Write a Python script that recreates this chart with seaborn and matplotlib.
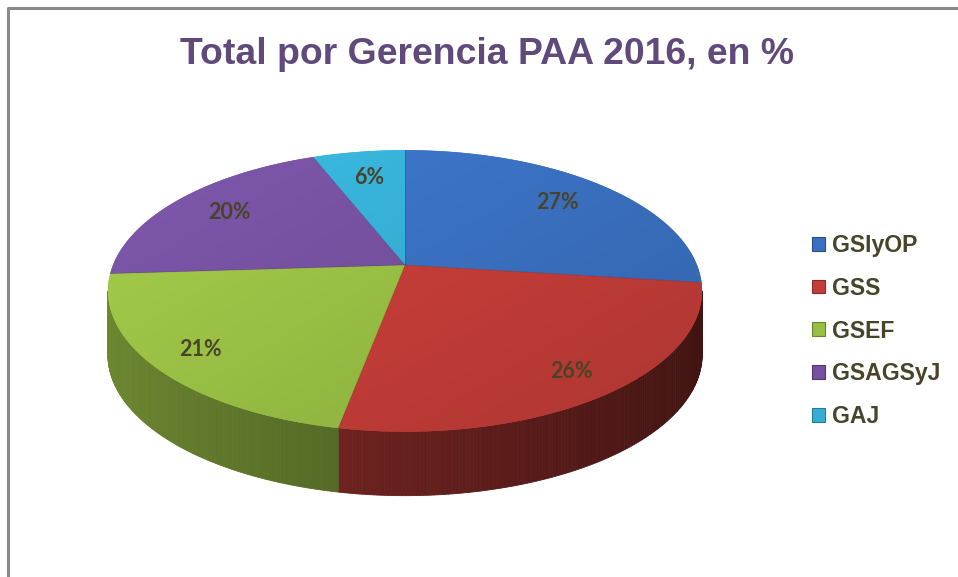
import numpy as np
import matplotlib
matplotlib.use("Agg")
import matplotlib.pyplot as plt
import seaborn as sns
from matplotlib.patches import Patch, Polygon
from matplotlib import colors as mcolors

# ---- data ----
categories = ["GSIyOP", "GSS", "GSEF", "GSAGSyJ", "GAJ"]
values = [27, 26, 21, 20, 6]
pct_labels = ["27%", "26%", "21%", "20%", "6%"]
title = "Total por Gerencia PAA 2016, en %"
slice_colors = ["#3a70c0", "#c43d38", "#98be44", "#74509e", "#36aed3"]

sns.set_theme(style="white")
plt.rcParams["font.family"] = ["Liberation Sans", "DejaVu Sans"]

W, H = 958, 577
fig = plt.figure(figsize=(W / 100, H / 100), dpi=100)
ax = fig.add_axes([0, 0, 1, 1])
ax.set_xlim(0, W)
ax.set_ylim(H, 0)
ax.axis("off")

# frame (partially visible)
ax.plot([8, 8, W], [H, 8, 8], color="#8a8a8a", lw=2.2, solid_capstyle="butt")

# ---- 3D pie geometry (perspective projection of a unit disc) ----
cx, cy = 405.0, 265.0
A, B, k = 292.0, 136.0, 0.184
thick = 64.0
t_vis_lo = -np.pi + np.arcsin(k)   # left tangent point of the wall
t_vis_hi = -np.arcsin(k)           # right tangent point of the wall


def proj(t, f=1.0):
    u = f * np.cos(t)
    v = f * np.sin(t)
    d = 1 + k * v
    return cx + A * u / d, cy - B * v / d


vals = np.asarray(values, dtype=float)
frac = vals / vals.sum()
cum = np.concatenate([[0], np.cumsum(frac)])
t_start = np.pi / 2 - 2 * np.pi * cum[:-1]
t_end = np.pi / 2 - 2 * np.pi * cum[1:]

rgb = [np.array(mcolors.to_rgb(c)) for c in slice_colors]

# side walls (visible front part only), shaded strip by strip
for i in range(len(values)):
    lo = max(t_end[i], t_vis_lo)
    hi = min(t_start[i], t_vis_hi)
    if hi <= lo:
        continue
    n = max(int((hi - lo) / 0.01), 2)
    ts = np.linspace(lo, hi, n + 1)
    for j in range(n):
        ta, tb = ts[j], ts[j + 1]
        xa, ya = proj(ta)
        xb, yb = proj(tb)
        tm = 0.5 * (ta + tb)
        fac = 0.52 - 0.2 * np.cos(tm)
        c = np.clip(rgb[i] * fac, 0, 1)
        ax.add_patch(Polygon([[xa, ya], [xb, yb], [xb, yb + thick], [xa, ya + thick]],
                             closed=True, facecolor=c, edgecolor=c, lw=0.6))

# top faces with soft lighting gradient
gx0, gx1, gy0, gy1 = 100, 710, 145, 440
gxs = np.linspace(0, 1, 300)
gys = np.linspace(0, 1, 200)
GX, GY = np.meshgrid(gxs, gys)
light = 1.10 - 0.22 * (0.55 * GX + 0.45 * GY)

for i in range(len(values)):
    ts = np.linspace(t_start[i], t_end[i], 200)
    xs, ys = proj(ts)
    pts = np.column_stack([np.concatenate([[cx], xs]), np.concatenate([[cy], ys])])
    poly = Polygon(pts, closed=True, facecolor=slice_colors[i], edgecolor="none")
    ax.add_patch(poly)
    img = np.clip(rgb[i][None, None, :] * light[:, :, None], 0, 1)
    im = ax.imshow(img, extent=[gx0, gx1, gy1, gy0], interpolation="bilinear", zorder=2)
    im.set_clip_path(poly)

# thin seams between slices on top face
for i in range(len(values)):
    x1, y1 = proj(t_start[i])
    ax.plot([cx, x1], [cy, y1], color=(0, 0, 0, 0.15), lw=0.6, zorder=3)

ax.set_xlim(0, W)
ax.set_ylim(H, 0)

# percentage labels
for i in range(len(values)):
    tm = 0.5 * (t_start[i] + t_end[i])
    lx, ly = proj(tm, 0.8 - 0.06 * np.sin(tm))
    ax.text(lx, ly, pct_labels[i], ha="center", va="center", fontsize=15.5,
            fontweight="bold", color="#494429", family=["Lato", "DejaVu Sans"], zorder=5)

# title
ax.text(487, 55, title, ha="center", va="center", fontsize=26.9, fontweight="bold",
        color="#604a7b", zorder=5)

# legend
handles = [Patch(facecolor=c, edgecolor=np.clip(np.array(mcolors.to_rgb(c)) * 0.7, 0, 1), lw=0.8)
           for c in slice_colors]
leg = ax.legend(handles, categories, loc="center left", bbox_to_anchor=(812, 331),
                bbox_transform=ax.transData, frameon=False, fontsize=16.6,
                handlelength=0.55, handleheight=0.55, handletextpad=0.3,
                labelspacing=0.86, borderpad=0, borderaxespad=0)
for t in leg.get_texts():
    t.set_color("#494429")
    t.set_fontweight("bold")

fig.savefig("out.png", dpi=100)
